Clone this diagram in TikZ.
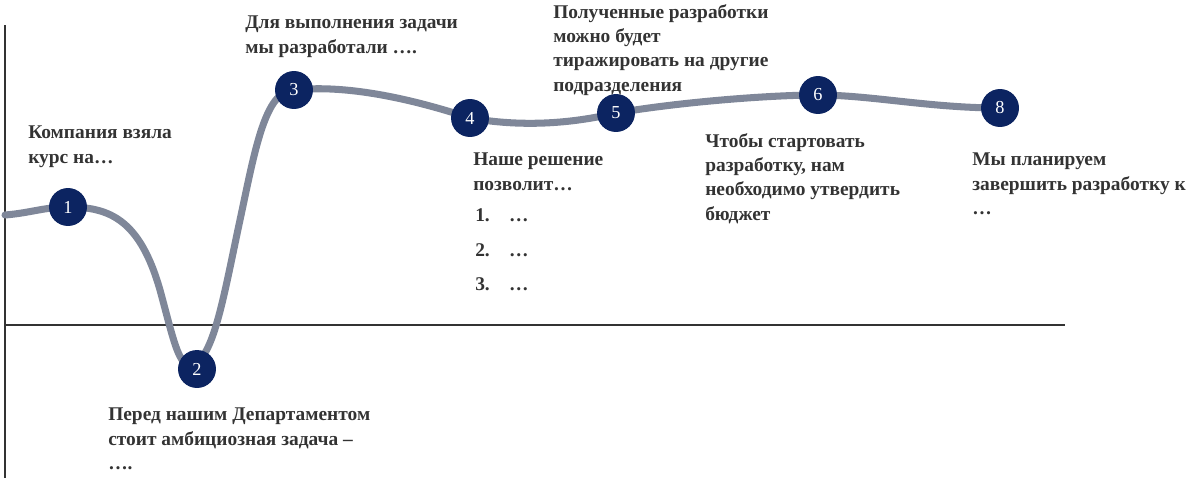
\documentclass[tikz,border=0pt]{standalone}
\usepackage{fontspec}
\setmainfont{Liberation Serif}
\begin{document}
\begin{tikzpicture}[x=0.025cm,y=-0.025cm,
  dot/.style={circle,fill=navy,text=white,minimum size=27pt,inner sep=0pt,font=\fontsize{13}{14}\selectfont},
  lbl/.style={anchor=north west,align=left,inner sep=0pt,font=\fontsize{13.8}{17.3}\selectfont\bfseries,text=txt}]
\definecolor{navy}{HTML}{0C2461}
\definecolor{curvec}{HTML}{7F8799}
\definecolor{txt}{HTML}{333333}
\useasboundingbox (0,0) rectangle (1200,488);
\draw[line width=1pt,black!80] (5,25) -- (5,478);
\draw[line width=1pt,black!80] (5,325) -- (1065,325);
\coordinate (s) at (5,215);
\coordinate (p1) at (68,207);
\coordinate (p2) at (197,362);
\coordinate (p3) at (294,90);
\coordinate (p4) at (470,118);
\coordinate (p5) at (616,113);
\coordinate (p6) at (818,95);
\coordinate (p8) at (1000,108);
\draw[line width=5pt,curvec,line cap=round]
 (s) .. controls (30,213) and (45,207) .. (p1)
 .. controls (110,207) and (140,220) .. (160,290)
 .. controls (175,345) and (180,375) .. (p2)
 .. controls (215,350) and (225,290) .. (240,220)
 .. controls (255,150) and (265,90) .. (p3)
 .. controls (340,85) and (400,95) .. (p4)
 .. controls (520,127) and (570,124) .. (p5)
 .. controls (680,102) and (770,95) .. (p6)
 .. controls (870,95) and (930,108) .. (p8);
\node[dot] (n1) at (p1) {1};
\node[dot] (n2) at (197,369) {2};
\node[dot] (n3) at (p3) {3};
\node[dot] (n4) at (p4) {4};
\node[dot] (n5) at (p5) {5};
\node[dot] (n6) at (p6) {6};
\node[dot] (n8) at (p8) {8};
\node[lbl] (t1) at (28,126) {Компания взяла\\курс на…};
\node[lbl] (t2) at (108,408) {Перед нашим Департаментом\\стоит амбициозная задача –\\….};
\node[lbl] (t3) at (245,16) {Для выполнения задачи\\мы разработали ….};
\node[lbl] (t4) at (473,153) {Наше решение\\позволит…};
\node[lbl] (l1) at (475,208) {1.\quad …};
\node[lbl] (l2) at (475,243) {2.\quad …};
\node[lbl] (l3) at (475,277) {3.\quad …};
\node[lbl] (t5) at (553,4) {Полученные разработки\\можно будет\\тиражировать на другие\\подразделения};
\node[lbl] (t6) at (705,133) {Чтобы стартовать\\разработку, нам\\необходимо утвердить\\бюджет};
\node[lbl] (t8) at (972,153) {Мы планируем\\завершить разработку к\\…};
\end{tikzpicture}
\end{document}
